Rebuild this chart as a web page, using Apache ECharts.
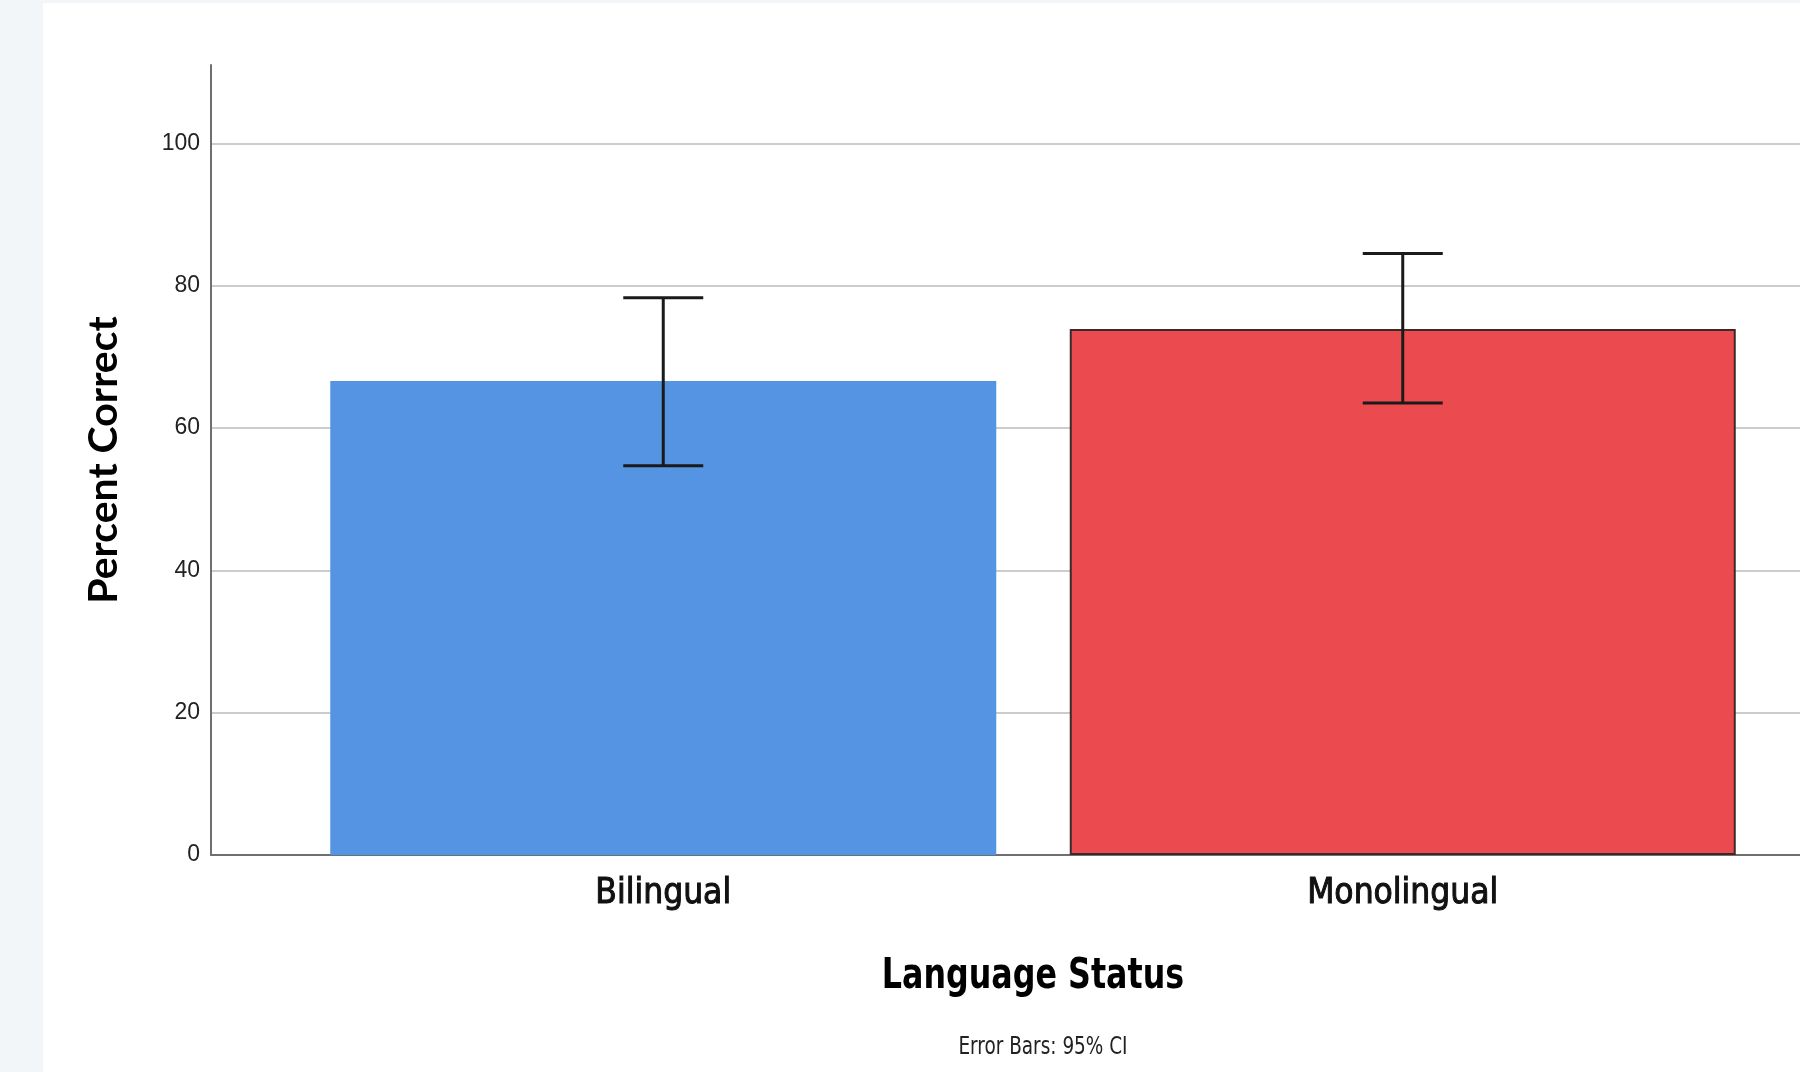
<!DOCTYPE html>
<html>
<head>
<meta charset="utf-8">
<script src="https://cdn.jsdelivr.net/npm/echarts@6/dist/echarts.min.js"></script>
<style>
  html, body { margin: 0; padding: 0; background: #f3f6f8; }
  #sheet { position: absolute; left: 43px; top: 3px; width: 1757px; height: 1069px; background: #fff; }
  #chart { position: absolute; left: 0; top: 0; width: 1800px; height: 1072px; }
</style>
</head>
<body>
<div id="sheet"></div>
<div id="chart"></div>
<script>
// data
const categories = ['Bilingual', 'Monolingual'];
const meanValues = [66.6, 73.9];
const ciLow      = [54.7, 63.5];
const ciHigh     = [78.3, 84.5];

const barColors   = ['#5594e2', '#eb4b4e'];
const barBorders  = [null, '#3a2a2a'];

const Y_MAX = 111;
const TOP = 65, BOTTOM = 217;
// the original frame runs past the right edge of the picture (211 .. 1855)
const FRAME_LEFT = 211, FRAME_WIDTH = 1644;
const FRAME_MID = FRAME_LEFT + FRAME_WIDTH / 2;

const chart = echarts.init(document.getElementById('chart'), null, { renderer: 'canvas' });

chart.setOption({
  backgroundColor: 'transparent',
  animation: false,
  grid: [
    // bars
    { left: 293.5, width: 1479, top: TOP, bottom: BOTTOM },
    // frame: axes and grid lines
    { left: FRAME_LEFT, width: FRAME_WIDTH, top: TOP, bottom: BOTTOM }
  ],
  xAxis: [
    {
      gridIndex: 0,
      type: 'category',
      data: categories,
      axisLine: { show: false },
      axisTick: { show: false },
      axisLabel: {
        margin: 19,
        color: '#111',
        fontSize: 35,
        fontFamily: 'DejaVu Sans Condensed',
        lineHeight: 40,
        textBorderColor: '#111',
        textBorderWidth: 1
      }
    },
    {
      gridIndex: 1,
      type: 'value',
      min: 0, max: 1,
      axisLine: { show: true, lineStyle: { color: '#6f6f6f', width: 2 } },
      axisTick: { show: false },
      axisLabel: { show: false },
      splitLine: { show: false }
    }
  ],
  yAxis: [
    {
      gridIndex: 0,
      type: 'value',
      min: 0, max: Y_MAX,
      show: false
    },
    {
      gridIndex: 1,
      type: 'value',
      min: 0, max: Y_MAX,
      interval: 20,
      axisLine: { show: true, lineStyle: { color: '#6f6f6f', width: 2 } },
      axisTick: { show: false },
      axisLabel: {
        margin: 11,
        color: '#222',
        fontSize: 23,
        fontFamily: 'Liberation Sans',
        showMaxLabel: false
      },
      splitLine: {
        show: true,
        showMinLine: false,
        showMaxLine: false,
        lineStyle: { color: '#cccccc', width: 2 }
      },
      name: 'Percent Correct',
      nameLocation: 'middle',
      nameGap: 87,
      nameTextStyle: {
        color: '#000',
        fontSize: 41,
        fontWeight: 'bold',
        fontFamily: 'Lato'
      }
    }
  ],
  series: [
    {
      type: 'bar',
      xAxisIndex: 0,
      yAxisIndex: 0,
      barWidth: 666,
      data: meanValues.map((v, i) => ({
        value: v,
        itemStyle: {
          color: barColors[i],
          borderColor: barBorders[i] || barColors[i],
          borderWidth: barBorders[i] ? 2 : 0
        }
      })),
      emphasis: { disabled: true },
      z: 2
    },
    {
      // 95% CI error bars
      type: 'custom',
      xAxisIndex: 0,
      yAxisIndex: 0,
      data: categories.map((c, i) => [i, ciLow[i], ciHigh[i]]),
      renderItem: function (params, api) {
        const x = api.value(0);
        const lo = api.coord([x, api.value(1)]);
        const hi = api.coord([x, api.value(2)]);
        const half = 40;
        const style = { stroke: '#1a1a1a', lineWidth: 3 };
        return {
          type: 'group',
          children: [
            { type: 'line', shape: { x1: hi[0], y1: hi[1], x2: lo[0], y2: lo[1] }, style },
            { type: 'line', shape: { x1: hi[0] - half, y1: hi[1], x2: hi[0] + half, y2: hi[1] }, style },
            { type: 'line', shape: { x1: lo[0] - half, y1: lo[1], x2: lo[0] + half, y2: lo[1] }, style }
          ]
        };
      },
      z: 5
    }
  ],
  graphic: [
    {
      // x-axis title, condensed like the original
      type: 'text',
      x: FRAME_MID,
      y: 977,
      scaleX: 0.84,
      style: {
        text: 'Language Status',
        fill: '#000',
        align: 'center',
        verticalAlign: 'middle',
        font: 'bold 42px "DejaVu Sans Condensed"'
      }
    },
    {
      type: 'text',
      x: FRAME_MID + 10,
      y: 1047,
      scaleX: 0.82,
      style: {
        text: 'Error Bars: 95% CI',
        fill: '#222',
        align: 'center',
        verticalAlign: 'middle',
        font: '25px "DejaVu Sans Condensed"'
      }
    }
  ]
});
</script>
</body>
</html>
